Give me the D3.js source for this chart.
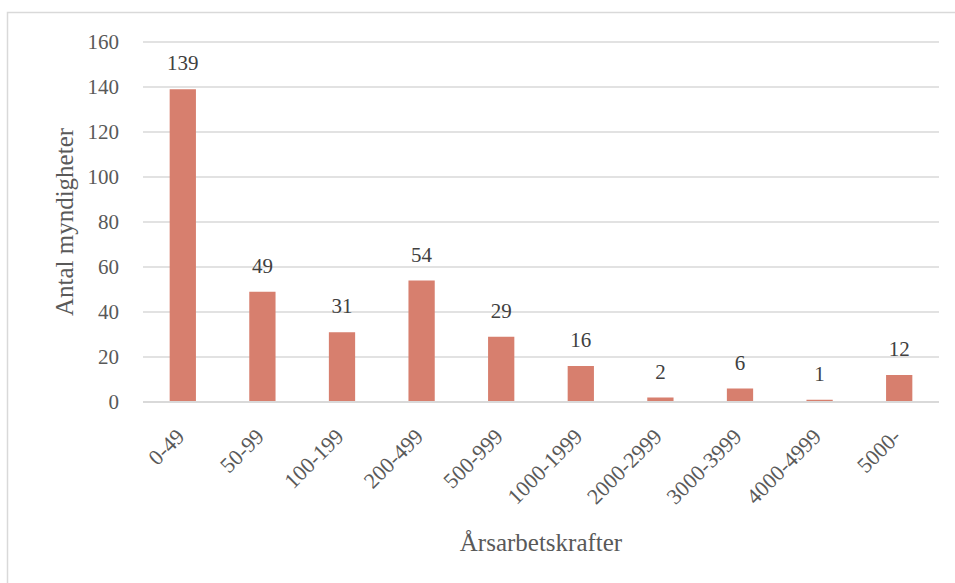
<!DOCTYPE html>
<html><head><meta charset="utf-8">
<script src="https://cdn.jsdelivr.net/npm/d3@7"></script>
<style>body{margin:0;background:#fff;} svg text{font-family:"Liberation Serif","DejaVu Serif",serif;}</style>
</head><body>
<svg id="c" width="955" height="583"></svg>
<script>
const categories = ["0-49","50-99","100-199","200-499","500-999","1000-1999","2000-2999","3000-3999","4000-4999","5000-"];
const values = [139,49,31,54,29,16,2,6,1,12];
const yTicks = [0,20,40,60,80,100,120,140,160];
const xTitle = "Årsarbetskrafter";
const yTitle = "Antal myndigheter";

const svg = d3.select("#c");
svg.append("rect").attr("x",7.5).attr("y",12.5).attr("width",960).attr("height",600)
  .attr("fill","#fff").attr("stroke","#d9d9d9").attr("stroke-width",1.5);

const m = {l:143, r:939, t:42, b:402};
const x = d3.scaleBand().domain(categories).range([m.l,m.r]).paddingInner(0.67).paddingOuter(0.335);
const y = d3.scaleLinear().domain([0,160]).range([m.b,m.t]);

const g = svg.append("g");
g.selectAll(".grid").data(yTicks.filter(d=>d>0)).join("line")
  .attr("x1",m.l).attr("x2",m.r).attr("y1",d=>y(d)).attr("y2",d=>y(d))
  .attr("stroke","#d9d9d9").attr("stroke-width",1.5);

const ya = svg.append("g").attr("transform",`translate(${m.l},0)`)
  .call(d3.axisLeft(y).tickValues(yTicks).tickSize(0).tickPadding(24));
ya.select(".domain").remove();
ya.selectAll("text").attr("font-size",21).attr("fill","#595959");

g.selectAll(".bar").data(values).join("rect")
  .attr("x",(d,i)=>x(categories[i])).attr("width",x.bandwidth())
  .attr("y",d=>y(d)).attr("height",d=>y(0)-y(d)).attr("fill","#d77f6e");

g.selectAll(".lbl").data(values).join("text")
  .attr("x",(d,i)=>x(categories[i])+x.bandwidth()/2).attr("y",d=>y(d)-19)
  .attr("text-anchor","middle").attr("font-size",21).attr("fill","#404040").text(d=>d);

svg.append("line").attr("x1",m.l).attr("x2",m.r).attr("y1",y(0)).attr("y2",y(0))
  .attr("stroke","#d9d9d9").attr("stroke-width",2);

const xa = svg.append("g").attr("transform",`translate(0,${m.b})`)
  .call(d3.axisBottom(x).tickSize(0).tickPadding(0));
xa.select(".domain").remove();
xa.selectAll("text").attr("font-size",22).attr("fill","#595959")
  .attr("text-anchor","end").attr("dy",null).attr("y",0)
  .attr("transform","translate(3,36) rotate(-45)");

svg.append("text").attr("x",541).attr("y",551).attr("text-anchor","middle")
  .attr("font-size",25).attr("fill","#595959").text(xTitle);
svg.append("text").attr("transform","translate(73,222) rotate(-90)").attr("text-anchor","middle")
  .attr("font-size",25).attr("fill","#595959").text(yTitle);
</script>
</body></html>
